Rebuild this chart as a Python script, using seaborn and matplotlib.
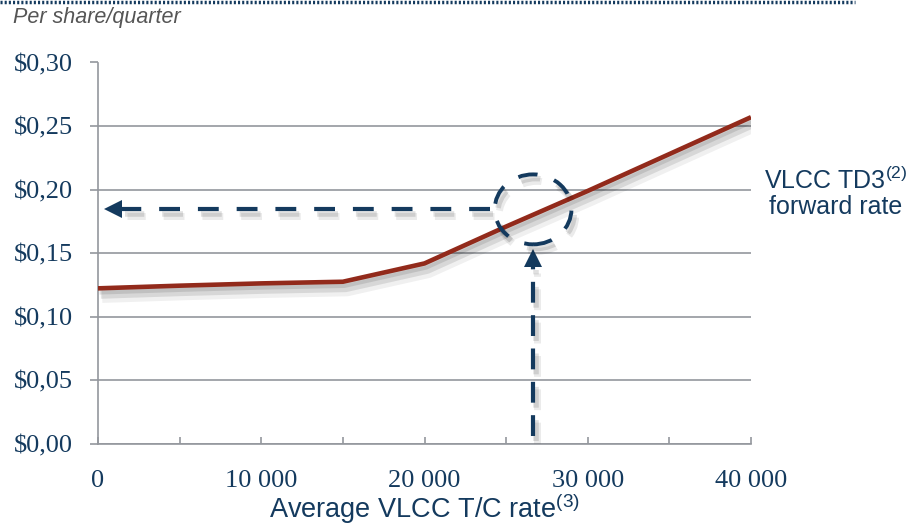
import matplotlib
matplotlib.use("Agg")
import matplotlib.pyplot as plt
import matplotlib.patheffects as pe
from matplotlib.patches import Ellipse
from matplotlib.lines import Line2D
from matplotlib.ticker import MultipleLocator, FuncFormatter
import seaborn as sns
import pandas as pd

# Data
tc_rate = [0, 5000, 10000, 15000, 20000, 25000, 30000, 35000, 40000]
dividend = [0.1224, 0.1245, 0.1263, 0.1276, 0.142, 0.171, 0.199, 0.228, 0.257]

# Annotation: forward rate reading
forward_rate = 26650
forward_dividend = 0.1845

NAVY = "#143A5E"
RED = "#922A1B"
GRID = "#94979D"

sns.set_theme(style="white")
plt.rcParams["font.family"] = ["Liberation Sans", "DejaVu Sans"]
plt.rcParams["mathtext.fontset"] = "custom"
plt.rcParams["mathtext.rm"] = "Liberation Sans"

df = pd.DataFrame({"rate": tc_rate, "dividend": dividend})

fig = plt.figure(figsize=(9.14, 5.26), dpi=100)
ax = fig.add_axes([98 / 914, 1 - 444 / 526, 653 / 914, (444 - 62.5) / 526])

# soft drop shadow: a few stacked offset copies
shadow = [pe.SimpleLineShadow(offset=(1, -2), shadow_color="black", alpha=0.10, linewidth=5),
          pe.SimpleLineShadow(offset=(2, -4), shadow_color="black", alpha=0.10, linewidth=7),
          pe.SimpleLineShadow(offset=(3, -6), shadow_color="black", alpha=0.06, linewidth=9),
          pe.Normal()]

sns.lineplot(data=df, x="rate", y="dividend", ax=ax, color=RED, linewidth=3.3,
             solid_capstyle="butt", path_effects=shadow, zorder=5)

ax.set_xlim(0, 40000)
ax.set_ylim(0, 0.30)

# grid and spines
ax.yaxis.set_major_locator(MultipleLocator(0.05))
ax.grid(axis="y", color=GRID, linewidth=1.2)
ax.grid(axis="x", visible=False)
for s in ["top", "right"]:
    ax.spines[s].set_visible(False)
for s in ["left", "bottom"]:
    ax.spines[s].set_color(GRID)
    ax.spines[s].set_linewidth(1.2)

ax.xaxis.set_major_locator(MultipleLocator(10000))
ax.xaxis.set_minor_locator(MultipleLocator(5000))
ax.xaxis.set_major_formatter(FuncFormatter(lambda v, p: f"{int(v):,}".replace(",", " ")))
ax.yaxis.set_major_formatter(FuncFormatter(lambda v, p: f"${v:.2f}".replace(".", ",")))

ax.tick_params(axis="x", which="both", direction="in", length=5, width=1.2,
               color=GRID, pad=19, labelsize=19, labelcolor=NAVY, bottom=True)
ax.tick_params(axis="y", direction="out", length=6, width=1.2, color=GRID,
               pad=12, labelsize=19, labelcolor=NAVY, left=True)
for lab in ax.get_xticklabels() + ax.get_yticklabels():
    lab.set_fontfamily("Liberation Serif")

ax.set_xlabel("Average VLCC T/C rate$^{(3)}$", fontsize=19.5, color=NAVY, labelpad=-1)
ax.set_ylabel("")

# dashed arrows showing the forward rate reading
arrow_fx = [pe.SimpleLineShadow(offset=(2, -3), shadow_color="black", alpha=0.12, linewidth=4),
            pe.SimpleLineShadow(offset=(3, -5), shadow_color="black", alpha=0.08, linewidth=5),
            pe.Normal()]
ax.plot([24000, 1500], [forward_dividend, forward_dividend], color=NAVY, lw=3,
        dashes=(5, 4.3), path_effects=arrow_fx, zorder=6)
ax.plot([900], [forward_dividend], marker="<", markersize=13, color=NAVY,
        markeredgewidth=0, zorder=6)
ax.plot([forward_rate, forward_rate], [0.006, 0.140], color=NAVY, lw=3,
        dashes=(5, 3), path_effects=arrow_fx, zorder=6)
ax.plot([forward_rate], [0.1465], marker="^", markersize=13, color=NAVY,
        markeredgewidth=0, zorder=6)
ax.add_patch(Ellipse((forward_rate, forward_dividend), width=4700, height=0.055,
                     fill=False, edgecolor=NAVY, lw=2.8, linestyle=(0, (5, 4.5)),
                     path_effects=arrow_fx, zorder=6))

# texts
fig.text(836 / 914, 1 - 193 / 526, "VLCC TD3$^{(2)}$\nforward rate", fontsize=18,
         color=NAVY, ha="center", va="center", multialignment="center",
         linespacing=1.05)
fig.text(13 / 914, 1 - 18 / 526, "Per share/quarter", fontsize=15.5, style="italic",
         color="#555555", ha="left", va="center")

# dotted rule at the top
fig.add_artist(Line2D([0, 855 / 914], [1 - 2 / 526, 1 - 2 / 526], color=NAVY,
                      linewidth=2.5, linestyle=(0, (0.6, 0.6))))

fig.savefig("out.png", dpi=100)
